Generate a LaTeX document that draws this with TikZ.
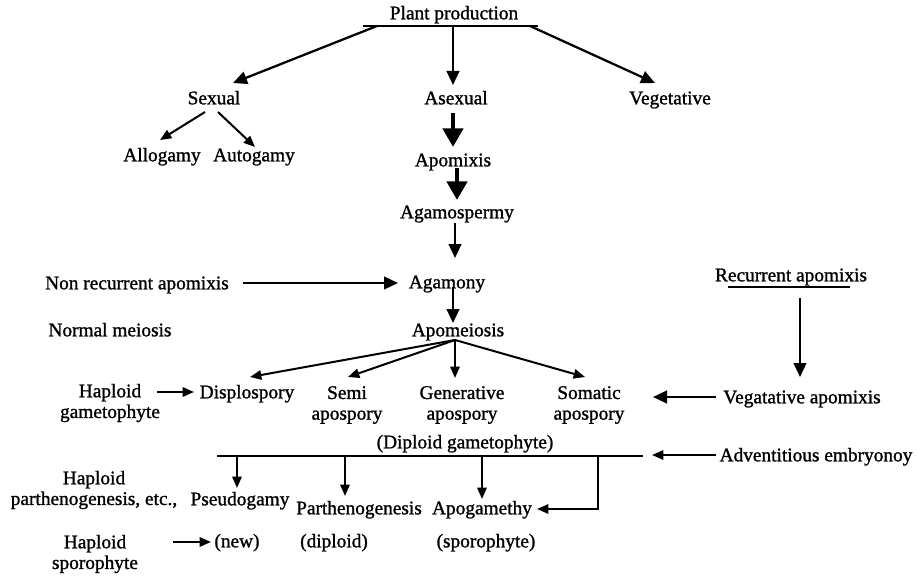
\documentclass[tikz,border=0pt]{standalone}
\usepackage{fontspec}
\setmainfont{Liberation Serif}[FakeBold=1.2]
\usetikzlibrary{arrows.meta}
\begin{document}
\begin{tikzpicture}[x=0.75pt,y=-0.75pt,
  lbl/.style={inner sep=0pt,outer sep=0pt,text height=0.7em,text depth=0.2em,
     yshift=-2.25pt,font=\fontsize{14.5pt}{15.5pt}\selectfont},
  lbl2/.style={inner sep=0pt,outer sep=0pt,align=center,yshift=-1.5pt,
     font=\fontsize{14.5pt}{15.5pt}\selectfont},
  ln/.style={line width=1.7pt},
  arr/.style={line width=1.7pt,-{Triangle[length=10.5pt,width=9.5pt]}},
  sarr/.style={line width=1.5pt,-{Triangle[length=8.5pt,width=7pt]}},
  tarr/.style={line width=3.6pt,-{Triangle[length=14pt,width=15pt]}}]
\useasboundingbox (0,0) rectangle (919,577);
% nodes
\node[lbl] (pp) at (454,13) {Plant production};
\node[lbl] (sex) at (214,98) {Sexual};
\node[lbl] (asex) at (456,98) {Asexual};
\node[lbl] (veg) at (670,98) {Vegetative};
\node[lbl] (allo) at (162,155) {Allogamy};
\node[lbl] (auto) at (254,155) {Autogamy};
\node[lbl] (apx) at (453,160) {Apomixis};
\node[lbl] (agsp) at (457,212) {Agamospermy};
\node[lbl] (nra) at (137,283) {Non recurrent apomixis};
\node[lbl] (agy) at (447,282) {Agamony};
\node[lbl] (nm) at (110,330) {Normal meiosis};
\node[lbl] (apm) at (458,330) {Apomeiosis};
\node[lbl2] (hg) at (110,401) {Haploid\\gametophyte};
\node[lbl] (dis) at (247,392) {Displospory};
\node[lbl2] (semi) at (347,403) {Semi\\apospory};
\node[lbl2] (gen) at (462,403) {Generative\\apospory};
\node[lbl2] (som) at (589,403) {Somatic\\apospory};
\node[lbl] (ra) at (791,275) {Recurrent apomixis};
\node[lbl] (va) at (802,397) {Vegatative apomixis};
\node[lbl] (dg) at (465,442) {(Diploid gametophyte)};
\node[lbl] (ae) at (816,455) {Adventitious embryonoy};
\node[lbl2] (hp) at (94,488) {Haploid\\parthenogenesis, etc.,};
\node[lbl] (psg) at (240,499) {Pseudogamy};
\node[lbl] (par) at (359,508) {Parthenogenesis};
\node[lbl] (apg) at (482,508) {Apogamethy};
\node[lbl2] (hs) at (95,552) {Haploid\\sporophyte};
\node[lbl] (new) at (237,541) {(new)};
\node[lbl] (dip) at (334,541) {(diploid)};
\node[lbl] (spo) at (486,541) {(sporophyte)};
% coordinates
\coordinate (ppL) at (363,26);
\coordinate (ppR) at (538,26);
\coordinate (ppa) at (377,26);
\coordinate (ppb) at (453,26);
\coordinate (ppc) at (530,26);
\coordinate (sexT) at (233,83);
\coordinate (asexT) at (453,85);
\coordinate (vegT) at (655,83);
\coordinate (sexA) at (205,112);
\coordinate (sexB) at (218,112);
\coordinate (alloT) at (160,140);
\coordinate (autoT) at (255,147);
\coordinate (asexB) at (453,113);
\coordinate (apxT) at (453,147);
\coordinate (apxB) at (457,168);
\coordinate (agspT) at (457,200);
\coordinate (agspB) at (455,223);
\coordinate (agyT) at (455,258);
\coordinate (nraR) at (243,283);
\coordinate (agyL) at (398,283);
\coordinate (agyB) at (453,287);
\coordinate (apmT) at (453,323);
\coordinate (fan) at (455,340);
\coordinate (disT) at (250,377);
\coordinate (semiT) at (348,377);
\coordinate (genT) at (455,378);
\coordinate (somT) at (585,377);
\coordinate (hgR) at (157,392);
\coordinate (disL) at (194,392);
\coordinate (raL) at (728,287);
\coordinate (raR) at (850,287);
\coordinate (raB) at (800,298);
\coordinate (vaT) at (800,377);
\coordinate (vaL) at (716,397);
\coordinate (somR) at (653,397);
\coordinate (dgL) at (217,456);
\coordinate (dgR) at (643,456);
\coordinate (d1) at (237,456);
\coordinate (d2) at (345,456);
\coordinate (d3) at (482,456);
\coordinate (d4) at (598,456);
\coordinate (psgT) at (237,488);
\coordinate (parT) at (345,496);
\coordinate (apgT) at (482,499);
\coordinate (bend) at (598,509);
\coordinate (apgR) at (537,509);
\coordinate (aeL) at (716,455);
\coordinate (dgE) at (652,455);
\coordinate (hsR) at (173,542);
\coordinate (newL) at (211,542);
% connectors
\draw[ln] (ppL) -- (ppR);
\draw[arr] (ppa) -- (sexT);
\draw[arr] (ppb) -- (asexT);
\draw[arr] (ppc) -- (vegT);
\draw[sarr] (sexA) -- (alloT);
\draw[sarr] (sexB) -- (autoT);
\draw[tarr] (asexB) -- (apxT);
\draw[tarr] (apxB) -- (agspT);
\draw[arr] (agspB) -- (agyT);
\draw[arr] (nraR) -- (agyL);
\draw[arr] (agyB) -- (apmT);
\draw[sarr] (fan) -- (disT);
\draw[sarr] (fan) -- (semiT);
\draw[sarr] (fan) -- (genT);
\draw[sarr] (fan) -- (somT);
\draw[sarr] (hgR) -- (disL);
\draw[ln] (raL) -- (raR);
\draw[arr] (raB) -- (vaT);
\draw[arr] (vaL) -- (somR);
\draw[ln] (dgL) -- (dgR);
\draw[sarr] (d1) -- (psgT);
\draw[sarr] (d2) -- (parT);
\draw[sarr] (d3) -- (apgT);
\draw[sarr] (d4) -- (bend) -- (apgR);
\draw[sarr] (aeL) -- (dgE);
\draw[sarr] (hsR) -- (newL);
\end{tikzpicture}
\end{document}
